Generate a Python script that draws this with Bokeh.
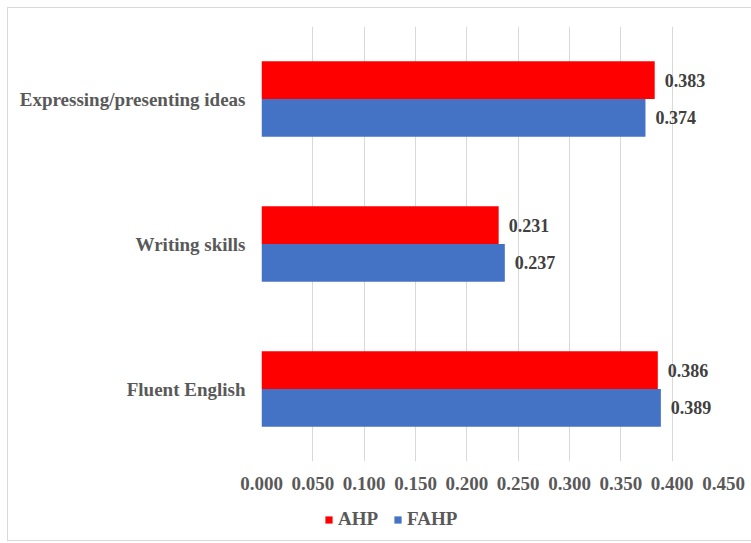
from bokeh.plotting import figure
from bokeh.layouts import column
from bokeh.models import ColumnDataSource, Legend, LegendItem, FactorRange, Range1d
from bokeh.transform import dodge
from bokeh.core.properties import value
from bokeh.embed import file_html
from bokeh.resources import INLINE

# Criteria weights from two ranking methods
categories = ["Fluent English", "Writing skills", "Expressing/presenting ideas"]
ahp = [0.386, 0.231, 0.383]
fahp = [0.389, 0.237, 0.374]
x_ticks = [0.0, 0.05, 0.10, 0.15, 0.20, 0.25, 0.30, 0.35, 0.40, 0.45]
series_names = ["AHP", "FAHP"]

FONT = "Liberation Serif"
GRAY = "#595959"
RED = "#FF0000"
BLUE = "#4472C4"

source = ColumnDataSource(dict(
    cat=categories,
    ahp=ahp,
    fahp=fahp,
    ahp_lbl=[f"{v:.3f}" for v in ahp],
    fahp_lbl=[f"{v:.3f}" for v in fahp],
))

p = figure(
    width=743, height=492,
    y_range=FactorRange(*categories, range_padding=0),
    x_range=(0, 0.45),
    output_backend="svg", toolbar_location=None,
    min_border_left=253, min_border_right=28,
    min_border_top=18, min_border_bottom=39,
    outline_line_color=None,
    background_fill_color="white", border_fill_color="white",
)

bar_h = 0.26
p.hbar(y=dodge("cat", bar_h / 2, range=p.y_range), right="ahp", left=0,
       height=bar_h, source=source, fill_color=RED, line_color=None)
p.hbar(y=dodge("cat", -bar_h / 2, range=p.y_range), right="fahp", left=0,
       height=bar_h, source=source, fill_color=BLUE, line_color=None)

lbl_kw = dict(source=source, x_offset=10, text_baseline="middle", text_align="left",
              text_font=value(FONT), text_font_style="bold", text_font_size="18px",
              text_color="#404040")
p.text(x="ahp", y=dodge("cat", bar_h / 2, range=p.y_range), text="ahp_lbl", **lbl_kw)
p.text(x="fahp", y=dodge("cat", -bar_h / 2, range=p.y_range), text="fahp_lbl", **lbl_kw)

# Axes
p.xaxis.ticker = x_ticks
p.xaxis.major_label_overrides = {t: f"{t:.3f}" for t in x_ticks}
p.xaxis.axis_line_color = None
p.xaxis.major_tick_line_color = None
p.xaxis.minor_tick_line_color = None
p.xaxis.major_label_standoff = 9
p.xaxis.major_label_text_font = FONT
p.xaxis.major_label_text_font_style = "bold"
p.xaxis.major_label_text_font_size = "19px"
p.xaxis.major_label_text_color = GRAY

p.yaxis.axis_line_color = None
p.yaxis.major_tick_line_color = None
p.yaxis.minor_tick_line_color = None
p.yaxis.major_label_standoff = 10
p.yaxis.major_label_text_font = FONT
p.yaxis.major_label_text_font_style = "bold"
p.yaxis.major_label_text_font_size = "19px"
p.yaxis.major_label_text_color = GRAY

p.xgrid.grid_line_color = "#d9d9d9"
p.xgrid.ticker = x_ticks
p.ygrid.grid_line_color = None

# Legend strip underneath the chart (its swatch glyphs sit far outside the visible range)
leg = figure(
    width=743, height=40,
    x_range=Range1d(0, 1), y_range=Range1d(0, 1),
    output_backend="svg", toolbar_location=None,
    min_border=0, outline_line_color=None,
    background_fill_color="white", border_fill_color="white",
)
leg.axis.visible = False
leg.grid.visible = False
swatch = ColumnDataSource(dict(y=[-50], left=[-50], right=[-49]))
k_ahp = leg.hbar(y="y", left="left", right="right", height=0.1, source=swatch,
                 fill_color=RED, line_color=None)
k_fahp = leg.hbar(y="y", left="left", right="right", height=0.1, source=swatch,
                  fill_color=BLUE, line_color=None)

legend = Legend(
    items=[LegendItem(label=series_names[0], renderers=[k_ahp]),
           LegendItem(label=series_names[1], renderers=[k_fahp])],
    orientation="horizontal",
    location=(63, 10),
    glyph_width=9, glyph_height=9,
    label_standoff=5, spacing=15,
    padding=0, margin=0,
    border_line_color=None, background_fill_alpha=0,
    label_text_font=FONT, label_text_font_style="bold",
    label_text_font_size="19px", label_text_color=GRAY,
)
leg.add_layout(legend, "center")

layout = column(p, leg, spacing=0,
                styles={"margin-left": "7px", "margin-top": "7px",
                        "border": "1px solid #d9d9d9"})

open("out.html", "w").write(file_html(layout, INLINE))
